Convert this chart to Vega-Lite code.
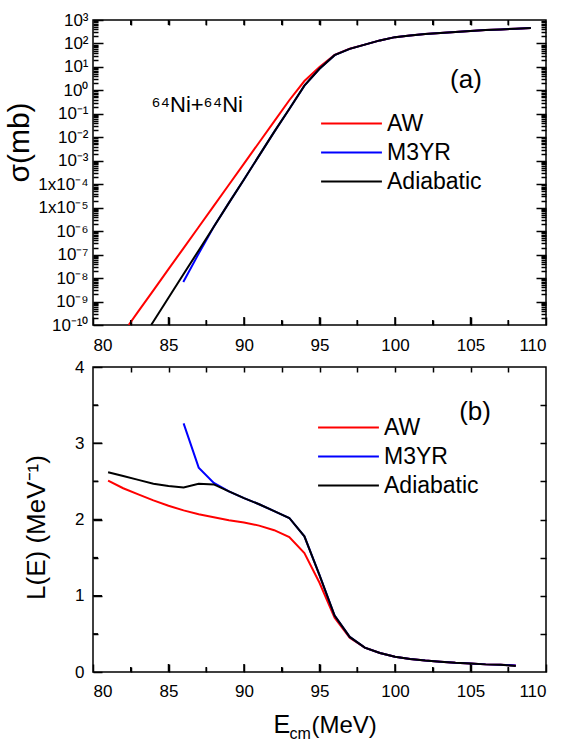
{
  "$schema": "https://vega.github.io/schema/vega-lite/v6.json",
  "padding": {"left": 3, "top": 10, "right": 5, "bottom": 2},
  "config": {
    "font": "Liberation Sans",
    "view": {"stroke": "black", "strokeWidth": 1.5},
    "axis": {"grid": false, "domain": false, "tickColor": "black", "tickWidth": 1.5, "labelColor": "black", "titleColor": "black", "titleFontWeight": "normal", "labelFontSize": 17, "labelFont": "Liberation Sans", "titleFont": "Liberation Sans"},
    "legend": {"labelColor": "black", "labelFont": "Liberation Sans"},
    "point": {"filled": false, "stroke": "black", "strokeWidth": 1.5, "opacity": 1}
  },
  "datasets": {
    "sigma": [
      {"model": "AW", "E": 82.36, "sigma": 1e-10},
      {"model": "AW", "E": 83, "sigma": 3.8e-10},
      {"model": "AW", "E": 84, "sigma": 3.0e-9},
      {"model": "AW", "E": 85, "sigma": 2.4e-8},
      {"model": "AW", "E": 86, "sigma": 1.9e-7},
      {"model": "AW", "E": 87, "sigma": 1.5e-6},
      {"model": "AW", "E": 88, "sigma": 1.2e-5},
      {"model": "AW", "E": 89, "sigma": 9.5e-5},
      {"model": "AW", "E": 90, "sigma": 7.6e-4},
      {"model": "AW", "E": 91, "sigma": 6.0e-3},
      {"model": "AW", "E": 92, "sigma": 0.048},
      {"model": "AW", "E": 93, "sigma": 0.38},
      {"model": "AW", "E": 94, "sigma": 2.5},
      {"model": "AW", "E": 95, "sigma": 10},
      {"model": "AW", "E": 96, "sigma": 33},
      {"model": "AW", "E": 97, "sigma": 60},
      {"model": "AW", "E": 98, "sigma": 89},
      {"model": "AW", "E": 99, "sigma": 135},
      {"model": "AW", "E": 100, "sigma": 186},
      {"model": "AW", "E": 101, "sigma": 219},
      {"model": "AW", "E": 102, "sigma": 251},
      {"model": "AW", "E": 103, "sigma": 282},
      {"model": "AW", "E": 104, "sigma": 309},
      {"model": "AW", "E": 105, "sigma": 339},
      {"model": "AW", "E": 106, "sigma": 372},
      {"model": "AW", "E": 107, "sigma": 398},
      {"model": "AW", "E": 108, "sigma": 427},
      {"model": "AW", "E": 109, "sigma": 457},
      {"model": "M3YR", "E": 85.98, "sigma": 6.8e-9},
      {"model": "M3YR", "E": 87, "sigma": 1.1e-7},
      {"model": "M3YR", "E": 88, "sigma": 1.55e-6},
      {"model": "M3YR", "E": 89, "sigma": 1.6e-5},
      {"model": "M3YR", "E": 90, "sigma": 1.6e-4},
      {"model": "M3YR", "E": 91, "sigma": 1.66e-3},
      {"model": "M3YR", "E": 92, "sigma": 0.017},
      {"model": "M3YR", "E": 93, "sigma": 0.16},
      {"model": "M3YR", "E": 94, "sigma": 1.6},
      {"model": "M3YR", "E": 95, "sigma": 8.3},
      {"model": "M3YR", "E": 96, "sigma": 31.6},
      {"model": "M3YR", "E": 97, "sigma": 59},
      {"model": "M3YR", "E": 98, "sigma": 89},
      {"model": "M3YR", "E": 99, "sigma": 135},
      {"model": "M3YR", "E": 100, "sigma": 186},
      {"model": "M3YR", "E": 101, "sigma": 219},
      {"model": "M3YR", "E": 102, "sigma": 251},
      {"model": "M3YR", "E": 103, "sigma": 282},
      {"model": "M3YR", "E": 104, "sigma": 309},
      {"model": "M3YR", "E": 105, "sigma": 339},
      {"model": "M3YR", "E": 106, "sigma": 372},
      {"model": "M3YR", "E": 107, "sigma": 398},
      {"model": "M3YR", "E": 108, "sigma": 427},
      {"model": "M3YR", "E": 109, "sigma": 457},
      {"model": "Adiabatic", "E": 83.85, "sigma": 1e-10},
      {"model": "Adiabatic", "E": 84, "sigma": 1.4e-10},
      {"model": "Adiabatic", "E": 85, "sigma": 1.45e-9},
      {"model": "Adiabatic", "E": 86, "sigma": 1.5e-8},
      {"model": "Adiabatic", "E": 87, "sigma": 1.5e-7},
      {"model": "Adiabatic", "E": 88, "sigma": 1.55e-6},
      {"model": "Adiabatic", "E": 89, "sigma": 1.6e-5},
      {"model": "Adiabatic", "E": 90, "sigma": 1.6e-4},
      {"model": "Adiabatic", "E": 91, "sigma": 1.66e-3},
      {"model": "Adiabatic", "E": 92, "sigma": 0.017},
      {"model": "Adiabatic", "E": 93, "sigma": 0.16},
      {"model": "Adiabatic", "E": 94, "sigma": 1.6},
      {"model": "Adiabatic", "E": 95, "sigma": 8.3},
      {"model": "Adiabatic", "E": 96, "sigma": 31.6},
      {"model": "Adiabatic", "E": 97, "sigma": 59},
      {"model": "Adiabatic", "E": 98, "sigma": 89},
      {"model": "Adiabatic", "E": 99, "sigma": 135},
      {"model": "Adiabatic", "E": 100, "sigma": 186},
      {"model": "Adiabatic", "E": 101, "sigma": 219},
      {"model": "Adiabatic", "E": 102, "sigma": 251},
      {"model": "Adiabatic", "E": 103, "sigma": 282},
      {"model": "Adiabatic", "E": 104, "sigma": 309},
      {"model": "Adiabatic", "E": 105, "sigma": 339},
      {"model": "Adiabatic", "E": 106, "sigma": 372},
      {"model": "Adiabatic", "E": 107, "sigma": 398},
      {"model": "Adiabatic", "E": 108, "sigma": 427},
      {"model": "Adiabatic", "E": 109, "sigma": 457}
    ],
    "lde": [
      {"model": "AW", "E": 81, "L": 2.51},
      {"model": "AW", "E": 82, "L": 2.41},
      {"model": "AW", "E": 83, "L": 2.33},
      {"model": "AW", "E": 84, "L": 2.25},
      {"model": "AW", "E": 85, "L": 2.18},
      {"model": "AW", "E": 86, "L": 2.12},
      {"model": "AW", "E": 87, "L": 2.07},
      {"model": "AW", "E": 88, "L": 2.03},
      {"model": "AW", "E": 89, "L": 1.99},
      {"model": "AW", "E": 90, "L": 1.96},
      {"model": "AW", "E": 91, "L": 1.92},
      {"model": "AW", "E": 92, "L": 1.86},
      {"model": "AW", "E": 93, "L": 1.77},
      {"model": "AW", "E": 94, "L": 1.56},
      {"model": "AW", "E": 95, "L": 1.17},
      {"model": "AW", "E": 96, "L": 0.71},
      {"model": "AW", "E": 97, "L": 0.45},
      {"model": "AW", "E": 98, "L": 0.32},
      {"model": "AW", "E": 99, "L": 0.25},
      {"model": "AW", "E": 100, "L": 0.2},
      {"model": "AW", "E": 101, "L": 0.17},
      {"model": "AW", "E": 102, "L": 0.15},
      {"model": "AW", "E": 103, "L": 0.135},
      {"model": "AW", "E": 104, "L": 0.12},
      {"model": "AW", "E": 105, "L": 0.11},
      {"model": "AW", "E": 106, "L": 0.1},
      {"model": "AW", "E": 107, "L": 0.095},
      {"model": "AW", "E": 108, "L": 0.085},
      {"model": "M3YR", "E": 86, "L": 3.26},
      {"model": "M3YR", "E": 87, "L": 2.68},
      {"model": "M3YR", "E": 88, "L": 2.48},
      {"model": "M3YR", "E": 89, "L": 2.37},
      {"model": "M3YR", "E": 90, "L": 2.28},
      {"model": "M3YR", "E": 91, "L": 2.2},
      {"model": "M3YR", "E": 92, "L": 2.11},
      {"model": "M3YR", "E": 93, "L": 2.02},
      {"model": "M3YR", "E": 94, "L": 1.78},
      {"model": "M3YR", "E": 95, "L": 1.27},
      {"model": "M3YR", "E": 96, "L": 0.74},
      {"model": "M3YR", "E": 97, "L": 0.46},
      {"model": "M3YR", "E": 98, "L": 0.32},
      {"model": "M3YR", "E": 99, "L": 0.25},
      {"model": "M3YR", "E": 100, "L": 0.2},
      {"model": "M3YR", "E": 101, "L": 0.17},
      {"model": "M3YR", "E": 102, "L": 0.15},
      {"model": "M3YR", "E": 103, "L": 0.135},
      {"model": "M3YR", "E": 104, "L": 0.12},
      {"model": "M3YR", "E": 105, "L": 0.11},
      {"model": "M3YR", "E": 106, "L": 0.1},
      {"model": "M3YR", "E": 107, "L": 0.095},
      {"model": "M3YR", "E": 108, "L": 0.085},
      {"model": "Adiabatic", "E": 81, "L": 2.62},
      {"model": "Adiabatic", "E": 82, "L": 2.57},
      {"model": "Adiabatic", "E": 83, "L": 2.52},
      {"model": "Adiabatic", "E": 84, "L": 2.47},
      {"model": "Adiabatic", "E": 85, "L": 2.44},
      {"model": "Adiabatic", "E": 86, "L": 2.42},
      {"model": "Adiabatic", "E": 87, "L": 2.47},
      {"model": "Adiabatic", "E": 88, "L": 2.46},
      {"model": "Adiabatic", "E": 89, "L": 2.37},
      {"model": "Adiabatic", "E": 90, "L": 2.28},
      {"model": "Adiabatic", "E": 91, "L": 2.2},
      {"model": "Adiabatic", "E": 92, "L": 2.11},
      {"model": "Adiabatic", "E": 93, "L": 2.02},
      {"model": "Adiabatic", "E": 94, "L": 1.78},
      {"model": "Adiabatic", "E": 95, "L": 1.27},
      {"model": "Adiabatic", "E": 96, "L": 0.74},
      {"model": "Adiabatic", "E": 97, "L": 0.46},
      {"model": "Adiabatic", "E": 98, "L": 0.32},
      {"model": "Adiabatic", "E": 99, "L": 0.25},
      {"model": "Adiabatic", "E": 100, "L": 0.2},
      {"model": "Adiabatic", "E": 101, "L": 0.17},
      {"model": "Adiabatic", "E": 102, "L": 0.15},
      {"model": "Adiabatic", "E": 103, "L": 0.135},
      {"model": "Adiabatic", "E": 104, "L": 0.12},
      {"model": "Adiabatic", "E": 105, "L": 0.11},
      {"model": "Adiabatic", "E": 106, "L": 0.1},
      {"model": "Adiabatic", "E": 107, "L": 0.095},
      {"model": "Adiabatic", "E": 108, "L": 0.08}
    ],
    "xtA": [
      {"v": 82.5, "kind": "minor", "lo": 1e-10, "hi": 1000}, {"v": 85, "kind": "major", "lo": 1e-10, "hi": 1000},
      {"v": 87.5, "kind": "minor", "lo": 1e-10, "hi": 1000}, {"v": 90, "kind": "major", "lo": 1e-10, "hi": 1000},
      {"v": 92.5, "kind": "minor", "lo": 1e-10, "hi": 1000}, {"v": 95, "kind": "major", "lo": 1e-10, "hi": 1000},
      {"v": 97.5, "kind": "minor", "lo": 1e-10, "hi": 1000}, {"v": 100, "kind": "major", "lo": 1e-10, "hi": 1000},
      {"v": 102.5, "kind": "minor", "lo": 1e-10, "hi": 1000}, {"v": 105, "kind": "major", "lo": 1e-10, "hi": 1000},
      {"v": 107.5, "kind": "minor", "lo": 1e-10, "hi": 1000}
    ],
    "xtB": [
      {"v": 82.5, "kind": "minor", "lo": 0, "hi": 4}, {"v": 85, "kind": "major", "lo": 0, "hi": 4},
      {"v": 87.5, "kind": "minor", "lo": 0, "hi": 4}, {"v": 90, "kind": "major", "lo": 0, "hi": 4},
      {"v": 92.5, "kind": "minor", "lo": 0, "hi": 4}, {"v": 95, "kind": "major", "lo": 0, "hi": 4},
      {"v": 97.5, "kind": "minor", "lo": 0, "hi": 4}, {"v": 100, "kind": "major", "lo": 0, "hi": 4},
      {"v": 102.5, "kind": "minor", "lo": 0, "hi": 4}, {"v": 105, "kind": "major", "lo": 0, "hi": 4},
      {"v": 107.5, "kind": "minor", "lo": 0, "hi": 4}
    ],
    "ylin": [
      {"v": 0.5, "kind": "minor", "l": 80, "r": 110}, {"v": 1, "kind": "major", "l": 80, "r": 110},
      {"v": 1.5, "kind": "minor", "l": 80, "r": 110}, {"v": 2, "kind": "major", "l": 80, "r": 110},
      {"v": 2.5, "kind": "minor", "l": 80, "r": 110}, {"v": 3, "kind": "major", "l": 80, "r": 110},
      {"v": 3.5, "kind": "minor", "l": 80, "r": 110}
    ],
    "notesA": [
      {"E": 104.7, "sigma": 2.75, "label": "(a)", "size": "big"},
      {"E": 86.9, "sigma": 0.24, "label": "⁶⁴Ni+⁶⁴Ni", "size": "small"}
    ],
    "notesB": [
      {"E": 105.3, "L": 3.41, "label": "(b)"}
    ]
  },
  "vconcat": [
    {
      "width": 453,
      "height": 305,
      "layer": [
        {
          "data": {"name": "sigma"},
          "mark": {"type": "line", "strokeWidth": 2, "clip": true},
          "encoding": {
            "x": {"field": "E", "type": "quantitative", "scale": {"domain": [80, 110], "nice": false, "zero": false},
                  "axis": {"orient": "bottom", "values": [80, 85, 90, 95, 100, 105, 110], "offset": -8, "tickSize": 8, "labelPadding": 12, "title": null}},
            "y": {"field": "sigma", "type": "quantitative", "scale": {"type": "log", "domain": [1e-10, 1000], "nice": false},
                  "axis": {"orient": "left", "values": [1e-10, 1e-9, 1e-8, 1e-7, 1e-6, 1e-5, 1e-4, 1e-3, 1e-2, 1e-1, 1, 10, 100, 1000], "offset": -10, "tickSize": 10, "labelPadding": 5, "labelFontSize": 17,
                           "labelExpr": "['10⁻¹⁰','10⁻⁹','10⁻⁸','10⁻⁷','10⁻⁶','1x10⁻⁵','1x10⁻⁴','10⁻³','10⁻²','10⁻¹','10⁰','10¹','10²','10³'][round(log(datum.value)/LN10)+10]",
                           "title": "σ(mb)", "titleFontSize": 30, "titleAlign": "center", "titleBaseline": "bottom", "titleX": -69, "titleY": 122}},
            "color": {"field": "model", "type": "nominal", "scale": {"domain": ["AW", "M3YR", "Adiabatic"], "range": ["#ff0000", "#0000ff", "#000000"]},
                      "legend": {"orient": "none", "legendX": 227, "legendY": 90, "title": null, "symbolType": "stroke", "symbolSize": 3700, "symbolStrokeWidth": 2, "labelFontSize": 23, "labelOffset": 4, "clipHeight": 27, "rowPadding": 2}}
          }
        },
        {
          "data": {"name": "sigma"},
          "mark": {"type": "line", "opacity": 0},
          "encoding": {
            "x": {"field": "E", "type": "quantitative", "axis": {"orient": "bottom", "values": [82.5, 87.5, 92.5, 97.5, 102.5, 107.5], "offset": -5, "tickSize": 5, "labels": false, "title": null}},
            "y": {"field": "sigma", "type": "quantitative", "axis": {"orient": "left", "offset": -5, "tickSize": 5, "labels": false, "title": null,
                  "values": [2e-10,3e-10,4e-10,5e-10,6e-10,7e-10,8e-10,9e-10,2e-9,3e-9,4e-9,5e-9,6e-9,7e-9,8e-9,9e-9,2e-8,3e-8,4e-8,5e-8,6e-8,7e-8,8e-8,9e-8,2e-7,3e-7,4e-7,5e-7,6e-7,7e-7,8e-7,9e-7,2e-6,3e-6,4e-6,5e-6,6e-6,7e-6,8e-6,9e-6,2e-5,3e-5,4e-5,5e-5,6e-5,7e-5,8e-5,9e-5,2e-4,3e-4,4e-4,5e-4,6e-4,7e-4,8e-4,9e-4,2e-3,3e-3,4e-3,5e-3,6e-3,7e-3,8e-3,9e-3,0.02,0.03,0.04,0.05,0.06,0.07,0.08,0.09,0.2,0.3,0.4,0.5,0.6,0.7,0.8,0.9,2,3,4,5,6,7,8,9,20,30,40,50,60,70,80,90,200,300,400,500,600,700,800,900]}},
            "detail": {"field": "model"}
          }
        },
        {
          "data": {"name": "sigma"},
          "mark": {"type": "line", "opacity": 0},
          "encoding": {
            "x": {"field": "E", "type": "quantitative", "axis": {"orient": "top", "values": [82.5, 85, 87.5, 90, 92.5, 95, 97.5, 100, 102.5, 105, 107.5], "offset": -5, "tickSize": 5, "labels": false, "title": null}},
            "y": {"field": "sigma", "type": "quantitative", "axis": {"orient": "right", "values": [1e-9, 1e-8, 1e-7, 1e-6, 1e-5, 1e-4, 1e-3, 1e-2, 1e-1, 1, 10, 100], "offset": -10, "tickSize": 10, "labels": false, "title": null}},
            "detail": {"field": "model"}
          }
        },
        {
          "data": {"name": "sigma"},
          "mark": {"type": "line", "opacity": 0},
          "encoding": {
            "x": {"field": "E", "type": "quantitative", "axis": null},
            "y": {"field": "sigma", "type": "quantitative", "axis": {"orient": "right", "offset": -5, "tickSize": 5, "labels": false, "title": null,
                  "values": [2e-10,3e-10,4e-10,5e-10,6e-10,7e-10,8e-10,9e-10,2e-9,3e-9,4e-9,5e-9,6e-9,7e-9,8e-9,9e-9,2e-8,3e-8,4e-8,5e-8,6e-8,7e-8,8e-8,9e-8,2e-7,3e-7,4e-7,5e-7,6e-7,7e-7,8e-7,9e-7,2e-6,3e-6,4e-6,5e-6,6e-6,7e-6,8e-6,9e-6,2e-5,3e-5,4e-5,5e-5,6e-5,7e-5,8e-5,9e-5,2e-4,3e-4,4e-4,5e-4,6e-4,7e-4,8e-4,9e-4,2e-3,3e-3,4e-3,5e-3,6e-3,7e-3,8e-3,9e-3,0.02,0.03,0.04,0.05,0.06,0.07,0.08,0.09,0.2,0.3,0.4,0.5,0.6,0.7,0.8,0.9,2,3,4,5,6,7,8,9,20,30,40,50,60,70,80,90,200,300,400,500,600,700,800,900]}},
            "detail": {"field": "model"}
          }
        },
        {
          "data": {"name": "xtA"},
          "mark": {"type": "point", "shape": "M0,0V-1"},
          "encoding": {
            "x": {"field": "v", "type": "quantitative", "axis": null},
            "y": {"field": "lo", "type": "quantitative", "axis": null},
            "size": {"field": "kind", "type": "nominal", "scale": {"domain": ["major", "minor"], "range": [256, 100]}, "legend": null}
          }
        },
        {
          "data": {"name": "xtA"},
          "mark": {"type": "point", "shape": "M0,0V1", "size": 100},
          "encoding": {
            "x": {"field": "v", "type": "quantitative", "axis": null},
            "y": {"field": "hi", "type": "quantitative", "axis": null}
          }
        },
        {
          "data": {"name": "notesA"},
          "mark": {"type": "text", "color": "black", "align": "center", "baseline": "middle"},
          "encoding": {
            "x": {"field": "E", "type": "quantitative", "axis": null},
            "y": {"field": "sigma", "type": "quantitative", "axis": null},
            "text": {"field": "label"},
            "size": {"field": "size", "type": "nominal", "scale": {"domain": ["big", "small"], "range": [26, 22]}, "legend": null}
          }
        }
      ],
      "resolve": {"axis": {"x": "independent", "y": "independent"}, "scale": {"size": "independent"}}
    },
    {
      "width": 453,
      "height": 305,
      "layer": [
        {
          "data": {"name": "lde"},
          "mark": {"type": "line", "strokeWidth": 2, "clip": true},
          "encoding": {
            "x": {"field": "E", "type": "quantitative", "scale": {"domain": [80, 110], "nice": false, "zero": false},
                  "axis": {"orient": "bottom", "values": [80, 85, 90, 95, 100, 105, 110], "offset": -8, "tickSize": 8, "labelPadding": 11,
                           "title": "E", "titleFontSize": 25, "titleAlign": "left", "titleBaseline": "alphabetic", "titleX": 180, "titleY": 68}},
            "y": {"field": "L", "type": "quantitative", "scale": {"domain": [0, 4], "nice": false},
                  "axis": {"orient": "left", "values": [0, 1, 2, 3, 4], "offset": -9, "tickSize": 9, "labelPadding": 9,
                           "title": "L(E) (MeV⁻¹)", "titleFontSize": 26, "titleAlign": "center", "titleBaseline": "bottom", "titleX": -53, "titleY": 160}},
            "color": {"field": "model", "type": "nominal", "scale": {"domain": ["AW", "M3YR", "Adiabatic"], "range": ["#ff0000", "#0000ff", "#000000"]},
                      "legend": {"orient": "none", "legendX": 224, "legendY": 47, "title": null, "symbolType": "stroke", "symbolSize": 3700, "symbolStrokeWidth": 2, "labelFontSize": 23, "labelOffset": 4, "clipHeight": 27, "rowPadding": 2}}
          }
        },
        {
          "data": {"name": "lde"},
          "mark": {"type": "line", "opacity": 0},
          "encoding": {
            "x": {"field": "E", "type": "quantitative", "axis": {"orient": "bottom", "values": [82.5, 87.5, 92.5, 97.5, 102.5, 107.5], "offset": -5, "tickSize": 5, "labels": false,
                  "title": "cm", "titleFontSize": 16, "titleAlign": "left", "titleBaseline": "alphabetic", "titleX": 196, "titleY": 71}},
            "y": {"field": "L", "type": "quantitative", "axis": {"orient": "left", "values": [0.5, 1.5, 2.5, 3.5], "offset": -5, "tickSize": 5, "labels": false, "title": null}},
            "detail": {"field": "model"}
          }
        },
        {
          "data": {"name": "lde"},
          "mark": {"type": "line", "opacity": 0},
          "encoding": {
            "x": {"field": "E", "type": "quantitative", "axis": {"orient": "top", "values": [82.5, 85, 87.5, 90, 92.5, 95, 97.5, 100, 102.5, 105, 107.5], "offset": -5, "tickSize": 5, "labels": false, "title": null}},
            "y": {"field": "L", "type": "quantitative", "axis": {"orient": "right", "values": [0.5, 1, 1.5, 2, 2.5, 3, 3.5], "offset": -6, "tickSize": 6, "labels": false, "title": null}},
            "detail": {"field": "model"}
          }
        },
        {
          "data": {"name": "lde"},
          "mark": {"type": "line", "opacity": 0},
          "encoding": {
            "x": {"field": "E", "type": "quantitative", "axis": {"orient": "bottom", "ticks": false, "labels": false,
                  "title": "(MeV)", "titleFontSize": 24, "titleAlign": "left", "titleBaseline": "alphabetic", "titleX": 218, "titleY": 60}},
            "y": {"field": "L", "type": "quantitative", "axis": null},
            "detail": {"field": "model"}
          }
        },
        {
          "data": {"name": "xtB"},
          "mark": {"type": "point", "shape": "M0,0V-1"},
          "encoding": {
            "x": {"field": "v", "type": "quantitative", "axis": null},
            "y": {"field": "lo", "type": "quantitative", "axis": null},
            "size": {"field": "kind", "type": "nominal", "scale": {"domain": ["major", "minor"], "range": [256, 100]}, "legend": null}
          }
        },
        {
          "data": {"name": "ylin"},
          "mark": {"type": "point", "shape": "M0,0H1"},
          "encoding": {
            "y": {"field": "v", "type": "quantitative", "axis": null},
            "x": {"field": "l", "type": "quantitative", "axis": null},
            "size": {"field": "kind", "type": "nominal", "scale": {"domain": ["major", "minor"], "range": [324, 100]}, "legend": null}
          }
        },
        {
          "data": {"name": "notesB"},
          "mark": {"type": "text", "color": "black", "align": "center", "baseline": "middle", "fontSize": 26},
          "encoding": {
            "x": {"field": "E", "type": "quantitative", "axis": null},
            "y": {"field": "L", "type": "quantitative", "axis": null},
            "text": {"field": "label"}
          }
        }
      ],
      "resolve": {"axis": {"x": "independent", "y": "independent"}, "scale": {"size": "independent"}}
    }
  ],
  "spacing": 3,
  "resolve": {"legend": {"color": "independent"}, "scale": {"size": "independent"}}
}
